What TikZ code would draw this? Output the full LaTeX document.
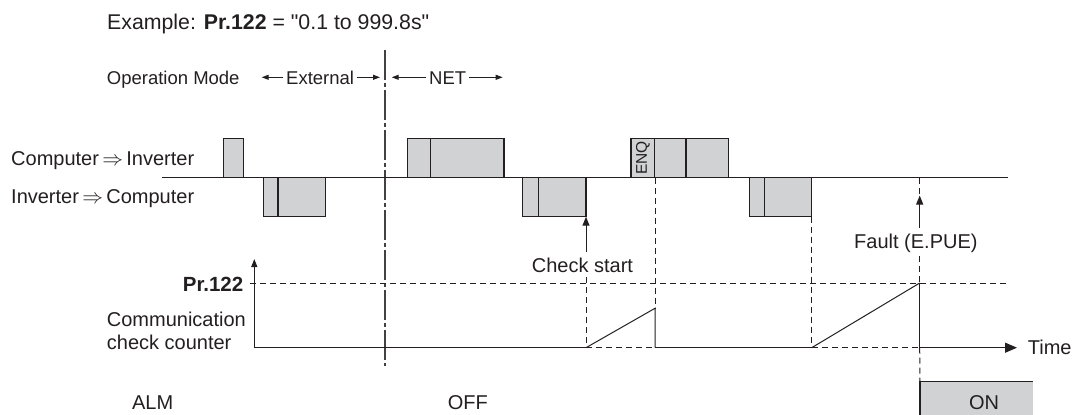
\documentclass[tikz,border=0pt]{standalone}
\usepackage{graphicx}
\usepackage{fontspec}
\setmainfont{Liberation Sans}[Ligatures=TeXOff]
\usetikzlibrary{arrows.meta}
\definecolor{ink}{RGB}{35,31,32}
\definecolor{boxgray}{RGB}{209,210,212}
\begin{document}
\begin{tikzpicture}[x=1pt,y=-1pt,
  lbl/.style={inner sep=0pt, text=ink, font=\fontsize{20}{24}\selectfont},
  modelbl/.style={inner sep=0pt, text=ink, font=\fontsize{18.5}{22}\selectfont},
  sig/.style={draw=ink, line width=1.2pt, fill=boxgray},
  solidln/.style={draw=ink, line width=1.2pt},
  thinln/.style={draw=ink, line width=1pt},
  dsh/.style={draw=ink, line width=1pt, dash pattern=on 6pt off 4pt},
  dashdot/.style={draw=ink!85, line width=1.3pt, dash pattern=on 30pt off 3pt on 4pt off 3pt},
  headarr/.style={-{Triangle[length=9pt,width=7pt]}},
  smallarr/.style={-{Triangle[length=7pt,width=5pt]}},
]
\useasboundingbox (0,0) rectangle (1072,415);

% ---------- titles ----------
\node[inner sep=0pt, text=ink, anchor=base west] (title) at (107,29)
  {\resizebox{322pt}{!}{Example: \textbf{Pr.122} = "0.1 to 999.8s"}};
\node[modelbl, anchor=base west] (opmode) at (106.7,84) {Operation Mode};
\node[modelbl, anchor=base west] (ext) at (286,84) {External};
\node[modelbl, anchor=base west] (net) at (429,84) {NET};
\coordinate (extL) at (261.7,77.3);
\coordinate (extR) at (380,77.3);
\coordinate (netL) at (391.7,77.3);
\coordinate (netR) at (502.7,77.3);
\draw[thinln, smallarr] (ext.west |- extL) ++(-3,0) -- (extL);
\draw[thinln, smallarr] (ext.east |- extR) ++(3,0) -- (extR);
\draw[thinln, smallarr] (net.west |- netL) ++(-3,0) -- (netL);
\draw[thinln, smallarr] (net.east |- netR) ++(3,0) -- (netR);

% ---------- mode change line ----------
\coordinate (mtop) at (385,50);
\coordinate (mbot) at (385,366);
\draw[dashdot] (mtop) -- (mbot);

% ---------- communication lines ----------
\node[lbl, anchor=base west] (ci) at (11,165.5) {Computer\,$\Rightarrow$\,Inverter};
\node[lbl, anchor=base west] (ic) at (11,203) {Inverter\,$\Rightarrow$\,Computer};
\coordinate (cb0) at (161.8,177.7);
\coordinate (cb1) at (1007.7,177.7);
\draw[solidln] (cb0) -- (cb1);

% upper boxes (computer -> inverter)
\draw[sig] (223.3,138.3) rectangle (243.3,177.7);
\draw[sig] (407.3,138.3) rectangle (504,177.7);
\draw[solidln] (430.7,138.3) -- (430.7,177.7);
\draw[sig] (631,138.3) rectangle (728.3,177.7);
\draw[solidln] (654.5,138.3) -- (654.5,177.7);
\draw[solidln] (686,138.3) -- (686,177.7);
\node[inner sep=0pt, text=ink, rotate=90, font=\fontsize{15.5}{18}\selectfont] (enq) at (643,158) {ENQ};

% lower boxes (inverter -> computer)
\draw[sig] (263.3,177.7) rectangle (325.7,216.7);
\draw[solidln] (278,177.7) -- (278,216.7);
\draw[sig] (522.7,177.7) rectangle (586,216.7);
\draw[solidln] (538.3,177.7) -- (538.3,216.7);
\draw[sig] (749.3,177.7) rectangle (811.7,216.7);
\draw[solidln] (764.3,177.7) -- (764.3,216.7);

% ---------- counter ----------
\node[lbl, font=\fontsize{20.5}{24}\selectfont\bfseries, anchor=base east] (pr) at (243.5,291) {Pr.122};
\node[lbl, anchor=base west] (comm1) at (106.7,326) {Communication};
\node[lbl, anchor=base west] (comm2) at (106.7,349) {check counter};

\coordinate (org) at (254.3,347.7);
\coordinate (ytip) at (254.3,259);
\coordinate (ttip) at (1017,347.7);
\node[lbl, anchor=base west] (time) at (1027.7,354.5) {Time};

% Pr.122 level
\coordinate (pr0) at (250,283);
\coordinate (pr1) at (1008,283);
\draw[dsh] (pr0) -- (pr1);

% ramps
\coordinate (r1s) at (586,347.7);
\coordinate (r1e) at (655,308.3);
\coordinate (r1b) at (655,347.7);
\coordinate (r2s) at (811.7,347.7);
\coordinate (r2e) at (919.7,283);
\coordinate (r2b) at (919.7,347.7);

\draw[solidln, line width=1.3pt] (org) -- (r1s);
\draw[dsh] (r1s) -- (r1b);
\draw[solidln, line width=1.3pt] (r1b) -- (r2s);
\draw[dsh] (r2s) -- (r2b);
\draw[solidln, line width=1.3pt, -{Triangle[length=12pt,width=10pt]}] (r2b) -- (ttip);
\draw[solidln, line width=1.3pt, -{Triangle[length=8pt,width=6pt]}] (org) -- (ytip);

\draw[thinln] (r1s) -- (r1e) -- (r1b);
\draw[thinln] (r2s) -- (r2e);
\draw[solidln] (r2e) -- (r2b);

% check start
\node[lbl, anchor=base west] (cs) at (531.7,272.5) {Check start};
\coordinate (csTip) at (586,216.7);
\coordinate (csTail) at (586,252);
\coordinate (csLow) at (586,277);
\draw[thinln, headarr] (csTail) -- (csTip);
\draw[dsh] (csLow) -- (r1s);

% dashed guides
\coordinate (enqD) at (655,177.7);
\draw[dsh] (enqD) -- (r1e);
\coordinate (b3D) at (811.7,216.7);
\draw[dsh] (b3D) -- (r2s);

% fault
\node[lbl, anchor=base west] (fault) at (854,248.5) {Fault (E.PUE)};
\coordinate (fTop) at (919.7,177.7);
\coordinate (fTip) at (919.7,195.5);
\coordinate (fTail) at (919.7,228);
\coordinate (fLow) at (919.7,256);
\draw[dsh] (fTop) -- (fTip);
\draw[thinln, headarr] (fTail) -- (fTip);
\draw[dsh] (fLow) -- (r2e);

% ---------- ALM ----------
\node[lbl, anchor=base west] (alm) at (131.9,409) {ALM};
\node[lbl, anchor=base west] (off) at (447.7,409) {OFF};
\coordinate (onTL) at (920,381.7);
\coordinate (onTR) at (1032.7,381.7);
\coordinate (onBL) at (920,416);
\fill[boxgray] (onTL) rectangle (1032.7,416);
\draw[solidln] (onBL) -- (onTL) -- (onTR);
\draw[dsh] (r2b) -- (onTL);
\node[lbl, anchor=base] (on) at (984,409) {ON};
\end{tikzpicture}
\end{document}
